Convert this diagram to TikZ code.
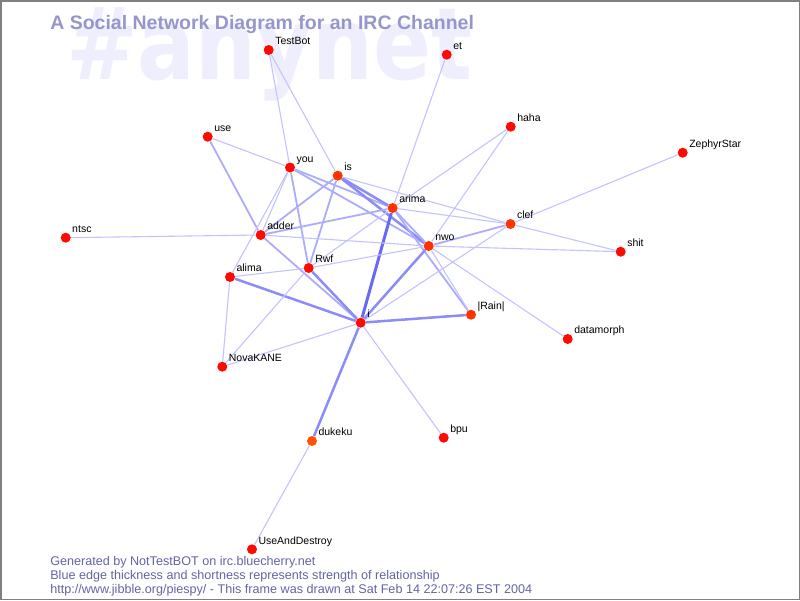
\documentclass[tikz,border=0pt]{standalone}
\usepackage{fontspec}
\usepackage{graphicx}
\setmainfont{Liberation Sans}
\newfontfamily\markfont{DejaVu Sans}
\usepackage{tikz}
\usetikzlibrary{arrows,automata,backgrounds}

\definecolor{nodered}{RGB}{255,10,0}
\definecolor{nodewarm}{RGB}{255,50,0}
\definecolor{nodehot}{RGB}{255,85,0}
\definecolor{markcol}{RGB}{238,238,252}
\definecolor{titlecol}{RGB}{150,150,205}
\definecolor{infocol}{RGB}{100,100,165}
\definecolor{edgeweak}{RGB}{195,195,255}
\definecolor{edgemid}{RGB}{172,172,252}
\definecolor{edgestrong}{RGB}{140,140,248}
\definecolor{edgetop}{RGB}{105,105,242}

\begin{document}
\begin{tikzpicture}[x=1pt,y=-1pt,auto,semithick,
        weak/.style={draw=edgeweak,line width=1.1pt},
        mid/.style={draw=edgemid,line width=1.8pt},
        strong/.style={draw=edgestrong,line width=2.5pt},
        top/.style={draw=edgetop,line width=3pt},
        info/.style={anchor=base west,inner sep=0pt,text=infocol,font=\fontsize{12.6}{14}\selectfont}]
    \tikzstyle{every state}=[fill=nodered,draw=none,minimum size=10pt,inner sep=0pt]
    \tikzstyle{every label}=[anchor=base west,inner sep=0pt,xshift=2.5pt,yshift=1.5pt,
        text=black,font=\fontsize{10.5}{12}\selectfont]

    \useasboundingbox (0,0) rectangle (800,600);

    \begin{scope}[on background layer]
        \fill[white] (0,0) rectangle (800,600);
        \node[anchor=base west,inner sep=0pt,text=markcol,
            font=\markfont\bfseries\fontsize{100}{100}\selectfont] (mark) at (66,79)
            {\scalebox{0.855}[1]{\#anynet}};
    \end{scope}

    \node[anchor=base west,inner sep=0pt,text=titlecol,
        font=\bfseries\fontsize{19.5}{22}\selectfont] (title) at (50,29)
        {A Social Network Diagram for an IRC Channel};

    % people
    \node[state,label=45:TestBot] (TestBot) at (268.7,50) {};
    \node[state,label=45:et] (et) at (446.7,54.7) {};
    \node[state,label=45:haha] (haha) at (510.7,126.7) {};
    \node[state,label=45:ZephyrStar] (ZephyrStar) at (682.7,152.7) {};
    \node[state,label=45:use] (use) at (207.7,136.7) {};
    \node[state,label=45:you] (you) at (290,167.5) {};
    \node[state,fill=nodewarm,label=45:is] (is) at (337.7,175.7) {};
    \node[state,fill=nodewarm,label=45:arima] (arima) at (392.7,208) {};
    \node[state,fill=nodewarm,label=45:clef] (clef) at (510.5,224) {};
    \node[state,label=45:ntsc] (ntsc) at (65.7,237.7) {};
    \node[state,label=45:adder] (adder) at (260.7,235) {};
    \node[state,fill=nodewarm,label=45:nwo] (nwo) at (428.7,246) {};
    \node[state,label=45:shit] (shit) at (620.7,251.7) {};
    \node[state,label=45:alima] (alima) at (230,277) {};
    \node[state,label=45:Rwf] (Rwf) at (308.7,268) {};
    \node[state,label=45:i] (i) at (360.7,322.7) {};
    \node[state,fill=nodewarm,label=45:{|Rain|}] (Rain) at (471,314.7) {};
    \node[state,label=45:datamorph] (datamorph) at (567.7,339) {};
    \node[state,label=45:NovaKANE] (NovaKANE) at (222.3,366.7) {};
    \node[state,fill=nodehot,label=45:dukeku] (dukeku) at (312,441) {};
    \node[state,label=45:bpu] (bpu) at (443.7,437.7) {};
    \node[state,label=45:UseAndDestroy] (UseAndDestroy) at (252,549.3) {};

    % links
    \begin{scope}[on background layer]
    \path   (TestBot) edge[weak] (you)
                      edge[weak] (is)
            (et)      edge[weak] (arima)
            (haha)    edge[weak] (arima)
                      edge[weak] (nwo)
            (ZephyrStar) edge[weak] (clef)
            (use)     edge[weak] (you)
                      edge[mid] (adder)
            (ntsc)    edge[weak] (adder)
            (you)     edge[weak] (adder)
                      edge[weak] (alima)
                      edge[mid] (Rwf)
                      edge[mid] (arima)
                      edge[mid] (nwo)
            (is)      edge[strong] (arima)
                      edge[strong] (nwo)
                      edge[weak] (clef)
                      edge[mid] (Rwf)
                      edge[mid] (adder)
            (arima)   edge[mid] (adder)
                      edge[weak] (clef)
                      edge[weak] (Rwf)
                      edge[mid] (nwo)
                      edge[mid] (Rain)
                      edge[top] (i)
            (adder)   edge[weak] (nwo)
                      edge[mid] (i)
            (alima)   edge[weak] (Rwf)
                      edge[weak] (NovaKANE)
                      edge[strong] (i)
            (Rwf)     edge[weak] (nwo)
                      edge[weak] (NovaKANE)
                      edge[strong] (i)
            (nwo)     edge[mid] (clef)
                      edge[weak] (shit)
                      edge[weak] (Rain)
                      edge[weak] (datamorph)
                      edge[strong] (i)
            (clef)    edge[weak] (shit)
                      edge[weak] (i)
            (i)       edge[strong] (Rain)
                      edge[weak] (NovaKANE)
                      edge[strong] (dukeku)
                      edge[weak] (bpu)
            (dukeku)  edge[weak] (UseAndDestroy);
    \end{scope}

    \node[info] (gen) at (50,565) {Generated by NotTestBOT on irc.bluecherry.net};
    \node[info] (legend) at (50,579.3) {Blue edge thickness and shortness represents strength of relationship};
    \node[info] (stamp) at (50,593.6) {http://www.jibble.org/piespy/ - This frame was drawn at Sat Feb 14 22:07:26 EST 2004};

    \draw[gray,line width=1.5pt] (0.75,0.75) rectangle (799.25,599.25);
\end{tikzpicture}
\end{document}
